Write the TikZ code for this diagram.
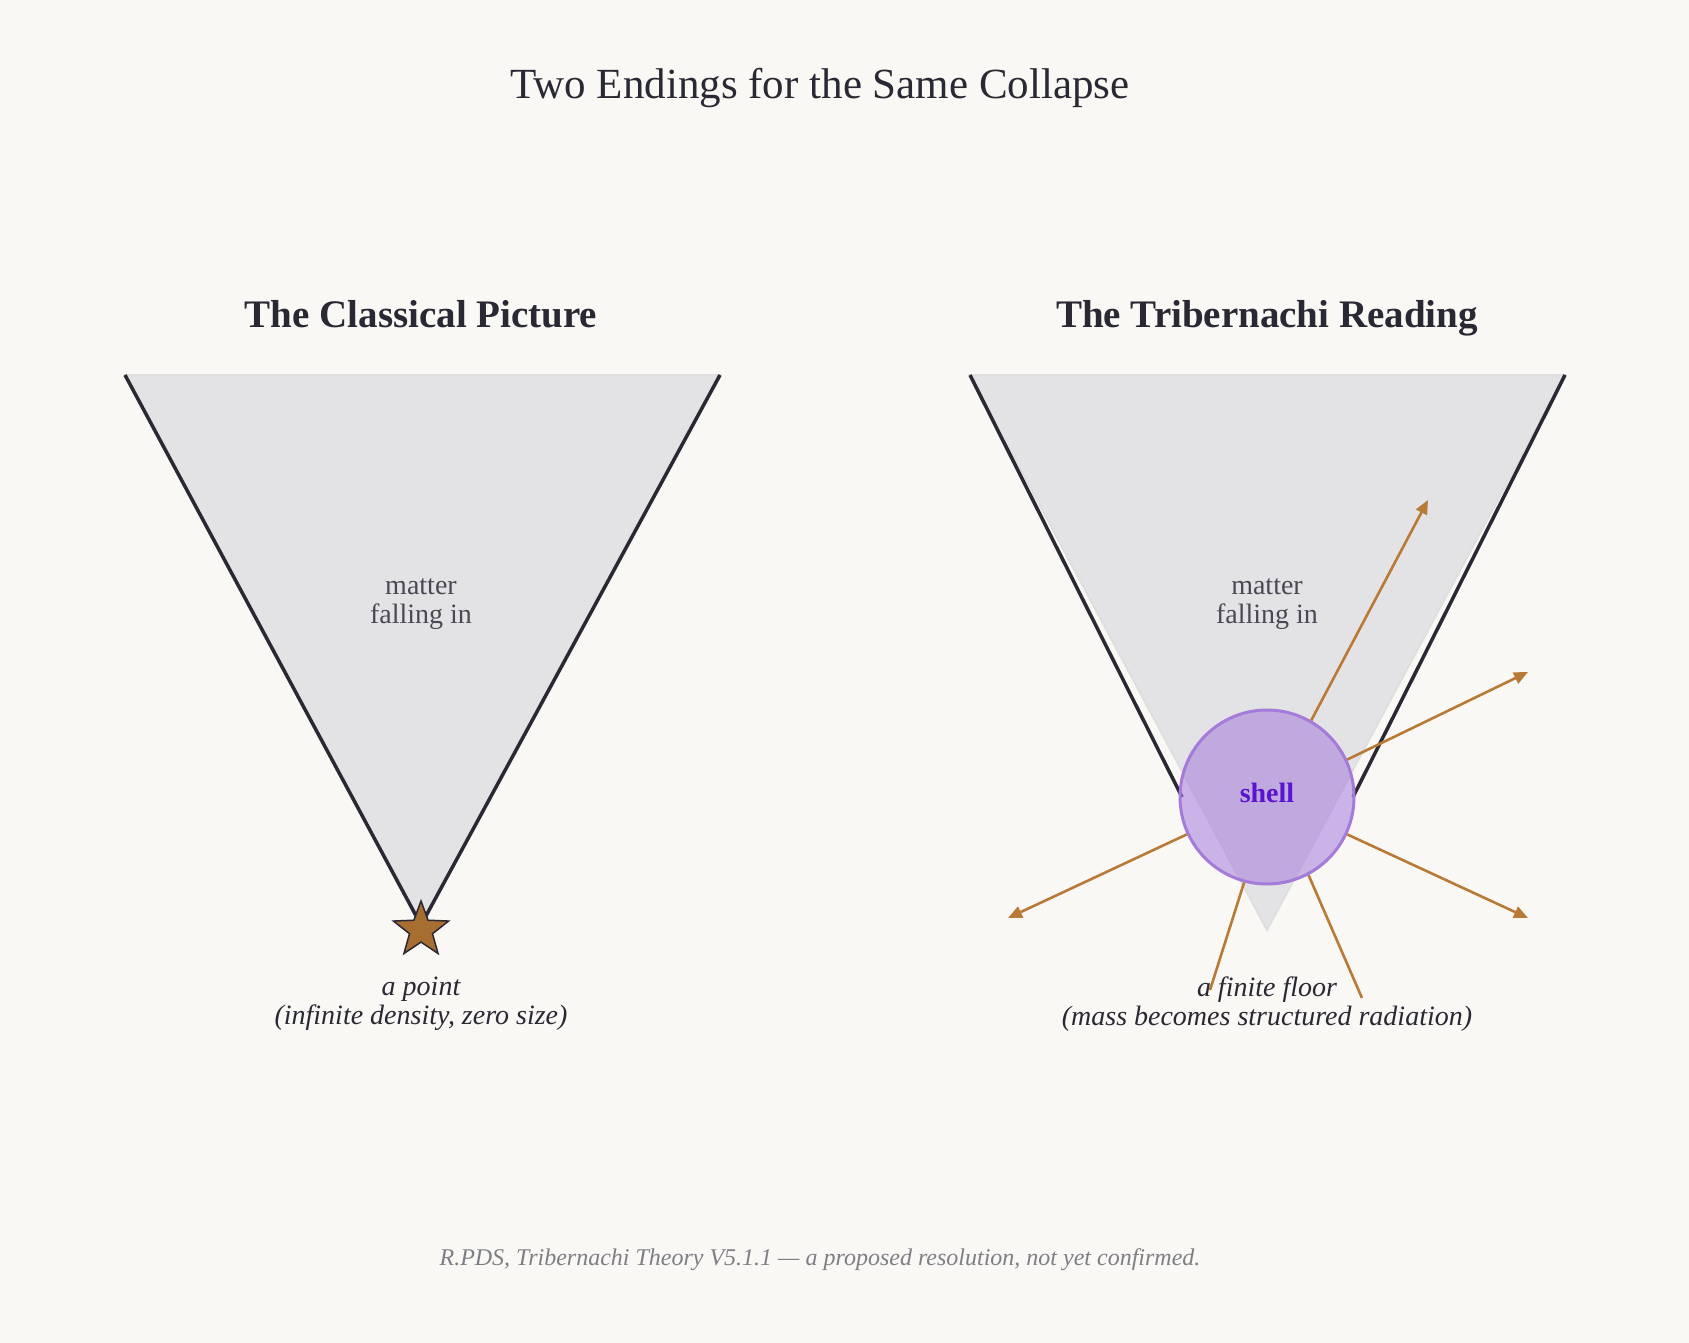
\documentclass[tikz,border=0pt]{standalone}
\usepackage{fontspec}
\setmainfont{Liberation Serif}
\usetikzlibrary{shapes.geometric}
\usetikzlibrary{arrows.meta}
\definecolor{bgc}{HTML}{F9F8F5}
\definecolor{ink}{HTML}{2A2833}
\definecolor{funnel}{HTML}{E3E3E6}
\definecolor{copper}{HTML}{B87A36}
\definecolor{shellc}{HTML}{A47BDB}
\definecolor{shellt}{HTML}{5A14D0}
\begin{document}
\begin{tikzpicture}[x=1pt, y=-1pt,
    wall/.style={draw=ink, line width=3.5pt},
    cone/.style={fill=funnel, draw=ink!15, line width=2pt},
    ray/.style={draw=copper, line width=2.6pt, -{Triangle[length=14pt,width=12pt]}},
    stub/.style={draw=copper, line width=2.6pt},
    head/.style={font=\fontsize{39}{46}\selectfont\bfseries, text=ink, text depth=.25em},
    lbl/.style={font=\fontsize{28}{32}\selectfont, text=ink!85, align=center},
    caption/.style={font=\fontsize{28}{32}\selectfont\itshape, text=ink, align=center}]
        \fill[bgc] (0,0) rectangle (1689,1343);
        \useasboundingbox (0,0) rectangle (1689,1343);

        \node (title) at (820,88) {\fontsize{43}{50}\selectfont\color{ink}Two Endings for the Same Collapse};
        \node[head] (lhead) at (421,315) {The Classical Picture};
        \node[head] (rhead) at (1267,315) {The Tribernachi Reading};

        % classical
        \coordinate (la) at (125,375);
        \coordinate (lb) at (720,375);
        \coordinate (lc) at (421,925);
        \path[cone] (la) -- (lb) -- (lc) -- cycle;
        \draw[wall] (la) -- (lc) -- (lb);
        \node[lbl] (lmat) at (421,604) {matter\\[-3pt]falling in};
        \node[star, star points=5, star point ratio=2.4, minimum size=58pt, inner sep=0pt,
              fill=copper!90!black, draw=ink, line width=1.5pt] (pt) at (421,930) {};
        \node[caption] (lcap) at (421,1004) {a point\\[-3pt](infinite density, zero size)};

        % tribernachi
        \coordinate (ra) at (970,375);
        \coordinate (rb) at (1565,375);
        \coordinate (rc) at (1267,930);
        \coordinate (rl) at (1182,797);
        \coordinate (rr) at (1353,797);
        \path[cone] (ra) -- (rb) -- (rc) -- cycle;
        \draw[wall] (ra) -- (rl);
        \draw[wall] (rb) -- (rr);
        \node[lbl] (rmat) at (1267,604) {matter\\[-3pt]falling in};
        \node[circle, minimum size=174pt, fill=shellc, fill opacity=.55, draw=shellc, line width=3pt] (shell) at (1267,797) {};
        \node[font=\fontsize{28}{32}\selectfont\bfseries, text=shellt] (sh) at (1267,793) {shell};

        \coordinate (e1) at (1428,500);
        \coordinate (e2) at (1528,672);
        \coordinate (e3) at (1008,918);
        \coordinate (e4) at (1528,918);
        \coordinate (e5) at (1210,990);
        \coordinate (e6) at (1362,998);
        \draw[ray] (shell.60) -- (e1);
        \draw[ray] (shell.25) -- (e2);
        \draw[ray] (shell.205) -- (e3);
        \draw[ray] (shell.-25) -- (e4);
        \draw[stub] (shell.-105) -- (e5);
        \draw[stub] (shell.-62) -- (e6);
        \node[caption] (rcap) at (1267,1004) {a finite floor\\[-3pt](mass becomes structured radiation)};

        \node[font=\fontsize{24}{28}\selectfont\itshape, text=ink!60] (foot) at (820,1260)
            {R.PDS, Tribernachi Theory V5.1.1 — a proposed resolution, not yet confirmed.};
    \end{tikzpicture}
\end{document}
